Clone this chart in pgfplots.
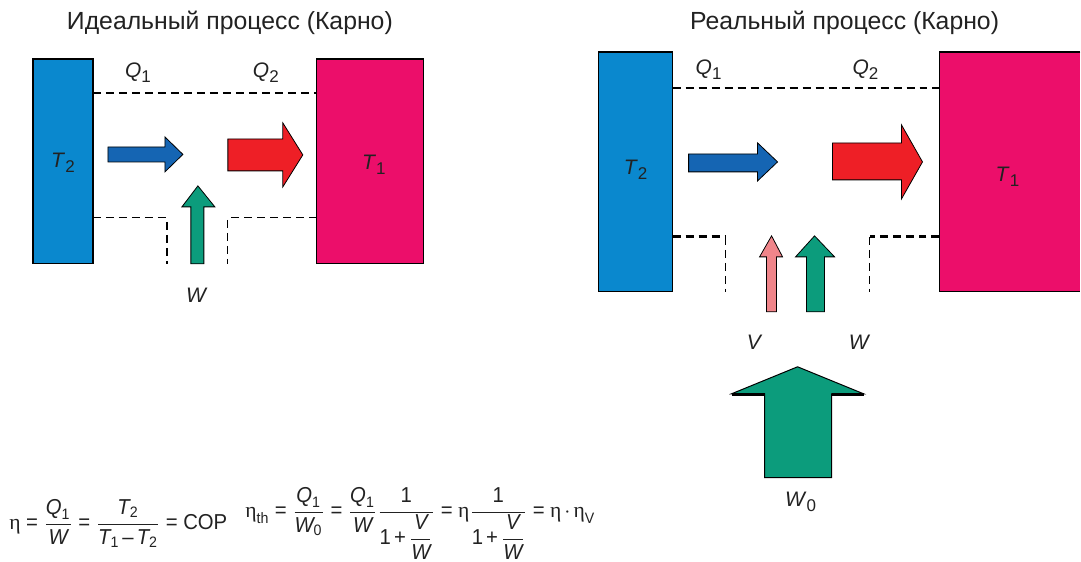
\documentclass[border=0pt]{standalone}
\usepackage{amsmath}
\usepackage{fontspec}
\setmainfont{Liberation Sans}
\newfontfamily\sgreek{Liberation Serif}
\newfontfamily\narrowsans[FakeStretch=0.94]{Liberation Sans}
\usepackage{pgfplots}
\pgfplotsset{compat=1.18}
\definecolor{rectblue}{HTML}{0A88CE}
\definecolor{rectpink}{HTML}{EC0E6A}
\definecolor{arrblue}{HTML}{1565B3}
\definecolor{arrred}{HTML}{EE1F26}
\definecolor{arrgreen}{HTML}{0C9C7C}
\definecolor{arrpink}{HTML}{F0858A}
\definecolor{txt}{HTML}{222222}
\newcommand{\vi}[1]{\text{\itshape #1}}
\newcommand{\tn}[1]{\text{#1}}
\newcommand{\et}{\text{\sgreek η}}
\newcommand{\eq}{\mathrel{\text{=}}}
\newcommand{\mi}{\mathbin{\text{–}}}
\newcommand{\pl}{\mathbin{\text{+}}}
\newcommand{\lab}[2]{\textit{#1}\raisebox{-0.45ex}{\fontsize{8.5}{10}\selectfont #2}}
\begin{document}
\begin{tikzpicture}
\begin{axis}[scale only axis, width=540.5pt, height=281pt,
  xmin=0, xmax=1081, ymin=0, ymax=562, hide axis, clip=false, no markers]
\addplot[draw=none] coordinates {(0,0) (1081,562)};
% ---------- left: ideal ----------
\addplot[fill=rectblue, draw=black, line width=0.6pt] coordinates {(33,298) (93,298) (93,503) (33,503)} -- cycle;
\addplot[fill=rectpink, draw=black, line width=0.6pt] coordinates {(317,298) (424,298) (424,503) (317,503)} -- cycle;
\addplot[black, line width=0.6pt, dash pattern=on 4pt off 2.5pt] coordinates {(93,469) (317,469)};
\addplot[black, line width=0.6pt, dash pattern=on 4pt off 2.5pt] coordinates {(93,344) (167,344) (167,298)};
\addplot[black, line width=0.6pt, dash pattern=on 4pt off 2.5pt] coordinates {(317,344) (228,344) (228,298)};
\addplot[fill=arrblue, draw=black, line width=0.4pt] coordinates {(108,400) (165,400) (165,390) (183,407.5) (165,425) (165,415) (108,415)} -- cycle;
\addplot[fill=arrred, draw=black, line width=0.4pt] coordinates {(228,391) (283,391) (283,375) (303,407) (283,439) (283,423) (228,423)} -- cycle;
\addplot[fill=arrgreen, draw=black, line width=0.4pt] coordinates {(191,298) (204,298) (204,355) (215,355) (198,376) (182,355) (191,355)} -- cycle;
% ---------- right: real ----------
\addplot[fill=rectblue, draw=black, line width=0.6pt] coordinates {(599,270) (673,270) (673,510) (599,510)} -- cycle;
\addplot[fill=rectpink, draw=none] coordinates {(940,270) (1081,270) (1081,510) (940,510)} -- cycle;
\addplot[black, line width=0.6pt] coordinates {(1081,510) (940,510) (940,270) (1081,270)};
\addplot[black, line width=0.6pt, dash pattern=on 4pt off 2.5pt] coordinates {(673,474) (940,474)};
\addplot[black, line width=1.4pt, dash pattern=on 4pt off 2.5pt] coordinates {(673,325) (726,325)};
\addplot[black, line width=0.6pt, dash pattern=on 4pt off 2.5pt] coordinates {(726,325) (726,270)};
\addplot[black, line width=1.4pt, dash pattern=on 4pt off 2.5pt] coordinates {(940,325) (870,325)};
\addplot[black, line width=0.6pt, dash pattern=on 4pt off 2.5pt] coordinates {(870,325) (870,270)};
\addplot[fill=arrblue, draw=black, line width=0.4pt] coordinates {(689,390) (758,390) (758,381) (778,400) (758,419) (758,408) (689,408)} -- cycle;
\addplot[fill=arrred, draw=black, line width=0.4pt] coordinates {(833,382) (902,382) (902,363) (923,400) (902,437) (902,419) (833,419)} -- cycle;
\addplot[fill=arrpink, draw=black, line width=0.4pt] coordinates {(767,250) (777,250) (777,305) (783,305) (772,326) (760,305) (767,305)} -- cycle;
\addplot[fill=arrgreen, draw=black, line width=0.4pt] coordinates {(807,250) (825,250) (825,305) (835,305) (815,326) (796,305) (807,305)} -- cycle;
\addplot[fill=arrgreen, draw=black, line width=0.5pt] coordinates {(765,84) (832,84) (832,168) (864,168) (798,195) (732,168) (765,168)} -- cycle;
\addplot[black, line width=1.6pt] coordinates {(732,167.5) (765,167.5)};
\addplot[black, line width=1.6pt] coordinates {(832,167.5) (864,167.5)};
% ---------- text ----------
\begin{scope}[every node/.style={text=txt}]
\node[font=\fontsize{12.4}{14}\selectfont] at (axis cs:230,539) {Идеальный процесс (Карно)};
\node[font=\fontsize{12.4}{14}\selectfont] at (axis cs:845,539) {Реальный процесс (Карно)};
\node[font=\fontsize{10.5}{12}\selectfont] at (axis cs:138,489) {\lab{Q}{1}};
\node[font=\fontsize{10.5}{12}\selectfont] at (axis cs:266,489) {\lab{Q}{2}};
\node[font=\fontsize{10.5}{12}\selectfont] at (axis cs:63,399) {\lab{T}{2}};
\node[font=\fontsize{10.5}{12}\selectfont] at (axis cs:374,397) {\lab{T}{1}};
\node[font=\fontsize{10.5}{12}\selectfont] at (axis cs:197,267) {\textit{W}};
\node[font=\fontsize{10.5}{12}\selectfont] at (axis cs:709,492) {\lab{Q}{1}};
\node[font=\fontsize{10.5}{12}\selectfont] at (axis cs:866,492) {\lab{Q}{2}};
\node[font=\fontsize{10.5}{12}\selectfont] at (axis cs:636,392) {\lab{T}{2}};
\node[font=\fontsize{10.5}{12}\selectfont] at (axis cs:1008,385) {\lab{T}{1}};
\node[font=\fontsize{10.5}{12}\selectfont] at (axis cs:755,220) {\textit{V}};
\node[font=\fontsize{10.5}{12}\selectfont] at (axis cs:860,220) {\textit{W}};
\node[font=\fontsize{10.5}{12}\selectfont] at (axis cs:801,60) {\lab{W}{0}};
\node[anchor=west, font=\narrowsans\fontsize{10.8}{12}\selectfont, inner sep=0pt] at (axis cs:9,38)
  {\thickmuskip=4.5mu \medmuskip=2.5mu $\et \eq \dfrac{\vi{Q}_{\tn{1}}}{\vi{W}} \eq \dfrac{\vi{T}_{\tn{2}}}{\vi{T}_{\tn{1}} \mi \vi{T}_{\tn{2}}} \eq \tn{COP}$};
\node[anchor=west, font=\narrowsans\fontsize{10.8}{12}\selectfont, inner sep=0pt] at (axis cs:245,38)
  {\thickmuskip=4.5mu \medmuskip=2.5mu $\et_{\tn{th}} \eq \dfrac{\vi{Q}_{\tn{1}}}{\vi{W}_{\tn{0}}} \eq \dfrac{\vi{Q}_{\tn{1}}}{\vi{W}}\dfrac{\tn{1}}{\tn{1}\pl\dfrac{\vi{V}}{\vi{W}}} \eq \et\dfrac{\tn{1}}{\tn{1}\pl\dfrac{\vi{V}}{\vi{W}}} \eq \et\cdot\et_{\tn{V}}$};
\end{scope}
\end{axis}
\end{tikzpicture}
\end{document}
